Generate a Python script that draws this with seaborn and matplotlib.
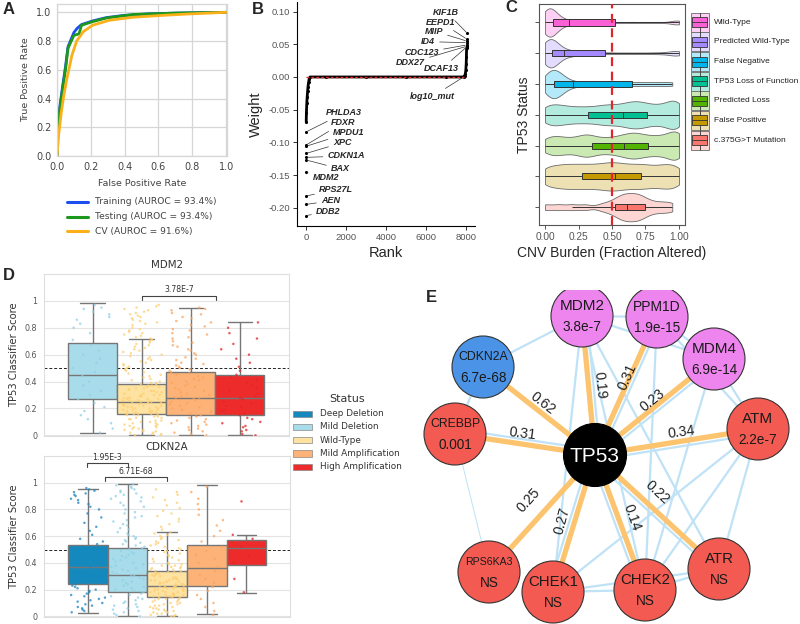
import numpy as np
import pandas as pd
import matplotlib
matplotlib.use("Agg")
import matplotlib.pyplot as plt
from matplotlib.patches import Circle, Rectangle
from matplotlib.colors import to_rgb
import seaborn as sns

sns.set_theme(style="white")
plt.rcParams["font.family"] = ["DejaVu Sans"]
ARIAL = ["Liberation Sans", "DejaVu Sans"]
np.random.seed(3)

# ======================= DATA =======================
# ---- A: ROC curves ----
roc_train_fpr = [0, 0.005, 0.016, 0.035, 0.05, 0.065, 0.1, 0.12, 0.145, 0.21, 0.29, 0.39, 0.55, 0.8, 1.0]
roc_train_tpr = [0, 0.2, 0.34, 0.5, 0.62, 0.76, 0.86, 0.89, 0.915, 0.94, 0.963, 0.978, 0.99, 0.997, 1.0]
roc_test_fpr = [0, 0.005, 0.016, 0.035, 0.05, 0.065, 0.1, 0.13, 0.145, 0.21, 0.29, 0.45, 0.7, 1.0]
roc_test_tpr = [0, 0.18, 0.32, 0.48, 0.6, 0.75, 0.84, 0.85, 0.91, 0.935, 0.96, 0.985, 0.995, 1.0]
roc_cv_fpr = [0, 0.01, 0.025, 0.04, 0.057, 0.088, 0.116, 0.155, 0.21, 0.31, 0.45, 0.64, 0.8, 1.0]
roc_cv_tpr = [0, 0.15, 0.3, 0.42, 0.53, 0.7, 0.8, 0.865, 0.91, 0.945, 0.966, 0.98, 0.99, 1.0]
roc_labels = ["Training (AUROC = 93.4%)", "Testing (AUROC = 93.4%)", "CV (AUROC = 91.6%)"]

# ---- B: classifier weights by rank ----
neg_genes = ["PHLDA3", "FDXR", "MPDU1", "XPC", "CDKN1A", "BAX", "MDM2", "RPS27L", "AEN", "DDB2"]
neg_rank = [10, 9, 8, 7, 6, 5, 4, 3, 2, 1]
neg_weight = [-0.084, -0.104, -0.106, -0.117, -0.123, -0.127, -0.145, -0.182, -0.195, -0.212]
body_rank = [11, 20, 40, 60, 80, 100, 130, 160, 200, 1000, 3000, 5000, 7000, 7880, 7920, 7960, 7990, 8010, 8020, 8030]
body_weight = [-0.069, -0.055, -0.04, -0.03, -0.022, -0.015, -0.008, -0.003, 0.0, 0.0, 0.0, 0.0, 0.0, 0.0, 0.001, 0.004, 0.01, 0.02, 0.03, 0.044]
pos_genes = ["log10_mut", "DCAF13", "DDX27", "CDC123", "ID4", "MIIP", "EEPD1", "KIF1B"]
pos_rank = [7930, 8033, 8034, 8035, 8036, 8037, 8038, 8060]
pos_weight = [0.001, 0.046, 0.047, 0.049, 0.0525, 0.055, 0.058, 0.067]

# ---- C: CNV burden by TP53 status ----
c_status = ["Wild-Type", "Predicted Wild-Type", "False Negative", "TP53 Loss of Function",
            "Predicted Loss", "False Positive", "c.375G>T Mutation"]
c_colors = ["#FB61D7", "#A58AFF", "#00B6EB", "#00C094", "#53B400", "#C49A00", "#F8766D"]
c_wt = [0, 0, 0, 0, 0.005, 0.005, 0.01, 0.01, 0.015, 0.015, 0.02, 0.02, 0.025, 0.025, 0.03, 0.03, 0.035,
        0.035, 0.04, 0.04, 0.045, 0.045, 0.05, 0.05, 0.055, 0.06, 0.065, 0.07, 0.075, 0.08, 0.085, 0.09,
        0.1, 0.11, 0.12, 0.14, 0.16, 0.18, 0.2, 0.23, 0.26, 0.3, 0.36, 0.45, 0.55, 0.65, 0.75, 0.85,
        0.96, 0.98, 0.99, 1.0]
c_pwt = [0, 0, 0, 0.005, 0.01, 0.01, 0.015, 0.02, 0.02, 0.025, 0.03, 0.03, 0.035, 0.04, 0.04, 0.045,
         0.05, 0.05, 0.055, 0.06, 0.065, 0.07, 0.075, 0.08, 0.085, 0.09, 0.1, 0.11, 0.12, 0.14, 0.16,
         0.18, 0.2, 0.23, 0.26, 0.3, 0.35, 0.42, 0.5, 0.6, 0.7, 0.8, 0.88, 0.95, 0.97, 0.99, 1.0]
c_fn = [0, 0.01, 0.02, 0.025, 0.03, 0.04, 0.045, 0.05, 0.06, 0.065, 0.07, 0.08, 0.085, 0.09, 0.1, 0.11,
        0.12, 0.13, 0.15, 0.17, 0.2, 0.25, 0.3, 0.36, 0.42, 0.48, 0.54, 0.6, 0.66, 0.72, 0.78, 0.84,
        0.9, 0.95]
c_lof = [0, 0.03, 0.07, 0.11, 0.15, 0.2, 0.25, 0.3, 0.35, 0.4, 0.44, 0.48, 0.52, 0.56, 0.6, 0.63, 0.66,
         0.69, 0.72, 0.75, 0.79, 0.83, 0.87, 0.91, 0.94, 0.97, 0.99, 1.0]
c_pl = [0, 0.04, 0.08, 0.12, 0.17, 0.22, 0.27, 0.3, 0.33, 0.37, 0.42, 0.47, 0.52, 0.56, 0.6, 0.63, 0.66,
        0.69, 0.72, 0.76, 0.8, 0.84, 0.88, 0.92, 0.95, 0.98, 1.0, 1.0]
c_fp = [0, 0.04, 0.09, 0.13, 0.17, 0.21, 0.25, 0.29, 0.33, 0.37, 0.41, 0.45, 0.48, 0.52, 0.55, 0.59,
        0.63, 0.67, 0.71, 0.75, 0.79, 0.84, 0.88, 0.92, 0.96, 1.0]
c_g375 = [0, 0.1, 0.2, 0.3, 0.42, 0.48, 0.52, 0.55, 0.57, 0.59, 0.61, 0.63, 0.65, 0.67, 0.69, 0.71,
          0.73, 0.76, 0.8, 0.85, 0.9, 0.95]
c_violin_values = [c_wt, c_pwt, c_fn, c_lof, c_pl, c_fp, c_g375]
# box summaries: min, q1, median, q3, max
c_box_wt = [0.0, 0.057, 0.18, 0.52, 1.0]
c_box_pwt = [0.0, 0.05, 0.14, 0.45, 1.0]
c_box_fn = [0.0, 0.07, 0.21, 0.65, 0.95]
c_box_lof = [0.0, 0.32, 0.58, 0.76, 1.0]
c_box_pl = [0.0, 0.35, 0.59, 0.77, 1.0]
c_box_fp = [0.0, 0.275, 0.52, 0.72, 1.0]
c_box_g375 = [0.2, 0.52, 0.61, 0.75, 0.95]
c_box_values = [c_box_wt, c_box_pwt, c_box_fn, c_box_lof, c_box_pl, c_box_fp, c_box_g375]

# ---- D: classifier score by copy number status ----
d_status = ["Deep Deletion", "Mild Deletion", "Wild-Type", "Mild Amplification", "High Amplification"]
d_box_colors = ["#1489bd", "#a9dcea", "#fee2a2", "#fdb378", "#ee2b2b"]
d_pt_colors = ["#1f86bf", "#8fd0e6", "#fdcf72", "#fba35e", "#e32626"]
mdm2_status = ["Mild Deletion", "Wild-Type", "Mild Amplification", "High Amplification"]
mdm2_box_mild_del = [0.018, 0.27, 0.452, 0.689, 0.988]
mdm2_box_wt = [0.0, 0.158, 0.247, 0.38, 0.714]
mdm2_box_mild_amp = [0.0, 0.148, 0.277, 0.47, 0.95]
mdm2_box_high_amp = [0.0, 0.152, 0.277, 0.447, 0.84]
mdm2_pts_mild_del = [0.97, 0.95, 0.94, 0.92, 0.9, 0.88, 0.86, 0.83, 0.8, 0.76, 0.71, 0.67, 0.63, 0.6, 0.57,
                     0.54, 0.5, 0.47, 0.44, 0.4, 0.37, 0.33, 0.3, 0.27, 0.24, 0.21, 0.18, 0.15, 0.12, 0.09,
                     0.05, 0.02]
mdm2_pts_wt = [0.97, 0.96, 0.95, 0.94, 0.93, 0.92, 0.91, 0.9, 0.89, 0.88, 0.87, 0.86, 0.85, 0.84, 0.83,
               0.82, 0.8, 0.79, 0.78, 0.77, 0.76, 0.75, 0.74, 0.73, 0.72, 0.71, 0.7, 0.69, 0.68, 0.67, 0.66,
               0.65, 0.64, 0.63, 0.62, 0.61, 0.6, 0.59, 0.58, 0.57, 0.56, 0.55, 0.54, 0.53, 0.52, 0.51, 0.5,
               0.49, 0.48, 0.47, 0.46, 0.45, 0.44, 0.43, 0.42, 0.41, 0.4, 0.39, 0.39, 0.38, 0.38, 0.37,
               0.37, 0.36, 0.36, 0.35, 0.35, 0.34, 0.34, 0.33, 0.33, 0.32, 0.32, 0.31, 0.31, 0.3, 0.3, 0.3,
               0.29, 0.29, 0.28, 0.28, 0.28, 0.27, 0.27, 0.27, 0.26, 0.26, 0.26, 0.25, 0.25, 0.25, 0.24,
               0.24, 0.24, 0.23, 0.23, 0.23, 0.22, 0.22, 0.22, 0.21, 0.21, 0.21, 0.2, 0.2, 0.2, 0.19, 0.19,
               0.19, 0.18, 0.18, 0.18, 0.17, 0.17, 0.17, 0.16, 0.16, 0.16, 0.15, 0.15, 0.15, 0.14, 0.14,
               0.13, 0.13, 0.12, 0.12, 0.11, 0.11, 0.1, 0.1, 0.09, 0.09, 0.08, 0.08, 0.07, 0.07, 0.06,
               0.06, 0.05, 0.05, 0.04, 0.04, 0.03, 0.03, 0.02, 0.02, 0.01, 0.01, 0.0, 0.0]
mdm2_pts_mild_amp = [0.95, 0.94, 0.93, 0.91, 0.9, 0.88, 0.87, 0.85, 0.84, 0.82, 0.81, 0.79, 0.78, 0.76, 0.75,
                     0.73, 0.72, 0.7, 0.69, 0.67, 0.66, 0.64, 0.63, 0.61, 0.6, 0.58, 0.57, 0.56, 0.54, 0.53,
                     0.52, 0.51, 0.5, 0.49, 0.48, 0.47, 0.46, 0.45, 0.44, 0.43, 0.42, 0.41, 0.4, 0.39, 0.38,
                     0.37, 0.36, 0.35, 0.34, 0.33, 0.32, 0.31, 0.3, 0.29, 0.28, 0.28, 0.27, 0.26, 0.25, 0.24,
                     0.23, 0.22, 0.21, 0.2, 0.19, 0.18, 0.17, 0.16, 0.15, 0.14, 0.13, 0.12, 0.11, 0.1, 0.09,
                     0.08, 0.07, 0.06, 0.05, 0.04, 0.03, 0.02, 0.01, 0.0]
mdm2_pts_high_amp = [0.84, 0.8, 0.76, 0.72, 0.68, 0.64, 0.6, 0.57, 0.54, 0.51, 0.48, 0.45, 0.43, 0.41, 0.39,
                     0.37, 0.35, 0.33, 0.31, 0.29, 0.28, 0.27, 0.25, 0.24, 0.22, 0.21, 0.19, 0.18, 0.16, 0.15,
                     0.13, 0.12, 0.1, 0.09, 0.07, 0.06, 0.04, 0.03, 0.01, 0.0]
cdkn2a_box_deep_del = [0.025, 0.242, 0.371, 0.537, 0.955]
cdkn2a_box_mild_del = [0.0, 0.182, 0.311, 0.515, 0.988]
cdkn2a_box_wt = [0.003, 0.145, 0.224, 0.341, 0.634]
cdkn2a_box_mild_amp = [0.015, 0.224, 0.361, 0.533, 0.98]
cdkn2a_box_high_amp = [0.177, 0.386, 0.515, 0.575, 0.612]
cdkn2a_pts_deep_del = [0.96, 0.95, 0.94, 0.93, 0.92, 0.91, 0.9, 0.88, 0.87, 0.85, 0.84, 0.82, 0.8, 0.77, 0.74,
                       0.7, 0.67, 0.64, 0.61, 0.58, 0.56, 0.54, 0.52, 0.5, 0.48, 0.46, 0.44, 0.42, 0.4, 0.38,
                       0.37, 0.35, 0.34, 0.33, 0.31, 0.3, 0.29, 0.28, 0.27, 0.26, 0.25, 0.24, 0.23, 0.22,
                       0.21, 0.2, 0.19, 0.18, 0.17, 0.16, 0.15, 0.14, 0.13, 0.12, 0.11, 0.1, 0.09, 0.08, 0.07,
                       0.06, 0.05, 0.04, 0.03]
cdkn2a_pts_mild_del = [0.99, 0.98, 0.97, 0.96, 0.95, 0.94, 0.93, 0.92, 0.91, 0.9, 0.89, 0.88, 0.86, 0.85,
                       0.83, 0.82, 0.8, 0.78, 0.77, 0.75, 0.74, 0.72, 0.71, 0.69, 0.68, 0.66, 0.65, 0.63, 0.62,
                       0.61, 0.6, 0.59, 0.58, 0.57, 0.56, 0.55, 0.54, 0.53, 0.52, 0.51, 0.5, 0.49, 0.48, 0.47,
                       0.46, 0.45, 0.44, 0.43, 0.42, 0.41, 0.4, 0.39, 0.38, 0.37, 0.36, 0.35, 0.34, 0.33, 0.32,
                       0.31, 0.3, 0.29, 0.28, 0.27, 0.26, 0.25, 0.24, 0.23, 0.22, 0.21, 0.2, 0.19, 0.18, 0.17,
                       0.16, 0.15, 0.14, 0.13, 0.12, 0.11, 0.1, 0.09, 0.08, 0.07, 0.06, 0.05, 0.04, 0.03,
                       0.02, 0.01, 0.0]
cdkn2a_pts_wt = [0.95, 0.93, 0.91, 0.89, 0.87, 0.85, 0.83, 0.81, 0.79, 0.77, 0.75, 0.73, 0.71, 0.69, 0.67,
                 0.65, 0.63, 0.62, 0.61, 0.6, 0.59, 0.58, 0.57, 0.56, 0.55, 0.54, 0.53, 0.52, 0.51, 0.5, 0.49,
                 0.48, 0.47, 0.46, 0.45, 0.44, 0.43, 0.42, 0.41, 0.4, 0.39, 0.39, 0.38, 0.38, 0.37, 0.37,
                 0.36, 0.36, 0.35, 0.35, 0.34, 0.34, 0.33, 0.33, 0.32, 0.32, 0.31, 0.31, 0.3, 0.3, 0.29,
                 0.29, 0.28, 0.28, 0.28, 0.27, 0.27, 0.27, 0.26, 0.26, 0.26, 0.25, 0.25, 0.25, 0.24, 0.24,
                 0.24, 0.23, 0.23, 0.23, 0.22, 0.22, 0.22, 0.21, 0.21, 0.21, 0.2, 0.2, 0.2, 0.19, 0.19,
                 0.19, 0.18, 0.18, 0.18, 0.17, 0.17, 0.17, 0.16, 0.16, 0.16, 0.15, 0.15, 0.15, 0.14, 0.14,
                 0.14, 0.13, 0.13, 0.13, 0.12, 0.12, 0.11, 0.11, 0.1, 0.1, 0.09, 0.09, 0.08, 0.08, 0.07,
                 0.07, 0.06, 0.06, 0.05, 0.05, 0.04, 0.04, 0.03, 0.03, 0.02, 0.02, 0.01, 0.01, 0.0, 0.0]
cdkn2a_pts_mild_amp = [0.97, 0.93, 0.88, 0.84, 0.8, 0.76, 0.72, 0.68, 0.64, 0.6, 0.56, 0.52, 0.49, 0.46, 0.43,
                       0.4, 0.37, 0.34, 0.31, 0.28, 0.25, 0.22, 0.19, 0.16, 0.13, 0.1, 0.07, 0.04, 0.01]
cdkn2a_pts_high_amp = [0.86, 0.61, 0.58, 0.52, 0.45, 0.4, 0.28, 0.18]
mdm2_pvalue = "3.78E-7"
cdkn2a_pvalues = ["1.95E-3", "6.71E-68"]

# ---- E: network ----
e_genes = ["MDM2", "PPM1D", "MDM4", "ATM", "ATR", "CHEK2", "CHEK1", "RPS6KA3", "CREBBP", "CDKN2A"]
e_pvals = ["3.8e-7", "1.9e-15", "6.9e-14", "2.2e-7", "NS", "NS", "NS", "NS", "0.001", "6.7e-68"]
e_weights = ["0.19", "0.31", "0.23", "0.34", "0.22", "0.14", "0.27", "0.25", "0.31", "0.62"]
e_kind = ["amp", "amp", "amp", "loss", "loss", "loss", "loss", "loss", "loss", "del"]
e_gene_edges = [("CDKN2A", "MDM2"), ("CDKN2A", "CREBBP"), ("MDM2", "PPM1D"), ("MDM2", "MDM4"),
                ("MDM2", "CHEK1"), ("MDM2", "CHEK2"), ("MDM2", "ATR"), ("PPM1D", "MDM4"),
                ("PPM1D", "ATM"), ("PPM1D", "CHEK2"), ("MDM4", "ATM"), ("MDM4", "CHEK2"),
                ("ATM", "ATR"), ("ATM", "CHEK1"), ("ATM", "CHEK2"), ("ATR", "CHEK2"),
                ("ATR", "CHEK1"), ("CHEK1", "CHEK2")]
e_tp53_blue = ["MDM2", "PPM1D", "MDM4", "ATM", "ATR", "CHEK2", "CHEK1", "CREBBP"]

# ======================= LAYOUT =======================
W, H = 800, 624
fig = plt.figure(figsize=(8, 6.24), dpi=100)
fig.patch.set_facecolor("white")


def fax(l, t, r, b):
    return fig.add_axes([l / W, 1 - b / H, (r - l) / W, (b - t) / H])


# ---------------- Panel A ----------------
axA = fax(57, 4, 227, 156)
dfA = pd.concat([
    pd.DataFrame({"fpr": roc_train_fpr, "tpr": roc_train_tpr, "set": roc_labels[0]}),
    pd.DataFrame({"fpr": roc_test_fpr, "tpr": roc_test_tpr, "set": roc_labels[1]}),
    pd.DataFrame({"fpr": roc_cv_fpr, "tpr": roc_cv_tpr, "set": roc_labels[2]}),
])
a_colors = ["#1f4ef0", "#1c981c", "#fbb01a"]
sns.lineplot(data=dfA, x="fpr", y="tpr", hue="set", palette=a_colors, sort=False,
             estimator=None, lw=2.0, ax=axA, legend=False)
axA.set_xlim(0, 1.005)
axA.set_ylim(0, 1.058)
axA.set_xticks([0, 0.2, 0.4, 0.6, 0.8, 1.0])
axA.set_yticks([0, 0.2, 0.4, 0.6, 0.8, 1.0])
axA.set_xticklabels([f"{v:.1f}" for v in axA.get_xticks()])
axA.set_yticklabels([f"{v:.1f}" for v in axA.get_yticks()])
axA.grid(True, color="#d6d6d6", lw=0.9)
for s in axA.spines.values():
    s.set_color("#d6d6d6")
    s.set_linewidth(0.9)
axA.tick_params(labelsize=7, colors="#444444", length=0, pad=4)
axA.set_xlabel("False Positive Rate", fontsize=6.8, color="#444444", labelpad=5)
axA.set_ylabel("True Positive Rate", fontsize=6.8, color="#444444", labelpad=4)

# ---------------- Panel B ----------------
axB = fax(297, 2, 475, 226)
dfB_body = pd.DataFrame({"rank": body_rank, "weight": body_weight})
dfB_pts = pd.DataFrame({"rank": neg_rank + body_rank + pos_rank,
                        "weight": neg_weight + body_weight + pos_weight})
sns.lineplot(data=dfB_body, x="rank", y="weight", color="black", lw=2.0, ax=axB, sort=True)
sns.scatterplot(data=dfB_pts, x="rank", y="weight", color="black", s=5, linewidth=0, ax=axB)
axB.plot([0, 7880], [0, 0], color="#e3262b", lw=1.0, ls=(0, (2, 1.5)), zorder=5)
axB.set_xlim(-450, 8450)
axB.set_ylim(-0.228, 0.1147)
axB.set_xticks([0, 2000, 4000, 6000, 8000])
axB.set_yticks([-0.2, -0.15, -0.1, -0.05, 0, 0.05, 0.1])
axB.set_yticklabels([f"{v:.2f}".replace("-0.00", "0.00") for v in [-0.2, -0.15, -0.1, -0.05, 0, 0.05, 0.1]])
for s in ["top", "right"]:
    axB.spines[s].set_visible(False)
for s in ["left", "bottom"]:
    axB.spines[s].set_color("black")
    axB.spines[s].set_linewidth(0.8)
axB.tick_params(axis="both", direction="out", length=3, width=0.7, color="#333333",
                labelsize=6.8, labelcolor="#555555", pad=2, left=True, bottom=True)
for lab in axB.get_xticklabels() + axB.get_yticklabels():
    lab.set_family(ARIAL)
axB.set_xlabel("Rank", fontsize=10.5, family=ARIAL, labelpad=3)
axB.set_ylabel("Weight", fontsize=10.5, family=ARIAL, labelpad=4)

B_LABEL_POS = {
    "PHLDA3": (1000, -0.055, "left"), "FDXR": (1225, -0.0703, "left"), "MPDU1": (1325, -0.0856, "left"),
    "XPC": (1350, -0.1005, "left"), "CDKN1A": (1075, -0.1208, "left"), "BAX": (1250, -0.1407, "left"),
    "MDM2": (335, -0.1544, "left"), "RPS27L": (650, -0.1728, "left"), "AEN": (750, -0.1896, "left"),
    "DDB2": (500, -0.2064, "left"),
    "KIF1B": (7665, 0.0994, "right"), "EEPD1": (7450, 0.0841, "right"), "MIIP": (6850, 0.0703, "right"),
    "ID4": (6450, 0.054, "right"), "CDC123": (6650, 0.0367, "right"), "DDX27": (5950, 0.0214, "right"),
    "DCAF13": (7650, 0.0122, "right"), "log10_mut": (7420, -0.0306, "right"),
}
for g, r, w in zip(neg_genes + pos_genes, neg_rank + pos_rank, neg_weight + pos_weight):
    tx, ty, ha = B_LABEL_POS[g]
    axB.annotate(g, xy=(r, w), xytext=(tx, ty), ha=ha, va="center", fontsize=6.5,
                 fontweight="bold", fontstyle="italic", family=ARIAL,
                 arrowprops=dict(arrowstyle="-", lw=0.5, color="#333333", shrinkA=1, shrinkB=1))

# ---------------- Panel C ----------------
axC = fax(539, 4, 685, 225)


def lighten(c, a=0.3):
    r, g, b = to_rgb(c)
    return (1 - a + a * r, 1 - a + a * g, 1 - a + a * b)


c_light = [lighten(c) for c in c_colors]
dfCv = pd.DataFrame([(s, v) for s, vals in zip(c_status, c_violin_values) for v in vals],
                    columns=["status", "burden"])
dfCb = pd.DataFrame([(s, v) for s, vals in zip(c_status, c_box_values) for v in vals],
                    columns=["status", "burden"])
sns.violinplot(data=dfCv, x="burden", y="status", hue="status", order=c_status, hue_order=c_status,
               palette=c_light, inner=None, cut=0, bw_adjust=0.33, density_norm="area", width=0.92,
               linewidth=0.6, linecolor="#6a6a6a", saturation=1, ax=axC, legend=False)
sns.boxplot(data=dfCb, x="burden", y="status", hue="status", order=c_status, hue_order=c_status,
            palette=c_colors, width=0.2, whis=(0, 100), showfliers=False, linewidth=0.7,
            linecolor="#333333", saturation=1, ax=axC, legend=False, showcaps=False)
axC.axvline(0.5, color="#e0262b", lw=1.6, ls=(0, (4, 2.5)), zorder=6)
axC.set_xlim(-0.045, 1.045)
axC.set_ylim(6.58, -0.6)
axC.set_xticks([0, 0.25, 0.5, 0.75, 1.0])
axC.set_xticklabels(["0.00", "0.25", "0.50", "0.75", "1.00"])
axC.set_yticks(range(len(c_status)))
axC.set_yticklabels([])
for s in axC.spines.values():
    s.set_color("#555555")
    s.set_linewidth(0.8)
axC.tick_params(axis="both", direction="out", length=3, width=0.7, color="#555555",
                labelsize=7.3, labelcolor="#555555", pad=2, left=True, bottom=True)
for lab in axC.get_xticklabels():
    lab.set_family(ARIAL)
axC.set_xlabel("CNV Burden (Fraction Altered)", fontsize=10, family=ARIAL, labelpad=3)
axC.set_ylabel("TP53 Status", fontsize=10, family=ARIAL, labelpad=1)


# ---------------- Panel D ----------------
def panel_d(ax, order, box_lists, pt_lists, title, xlim):
    cols_box = [d_box_colors[d_status.index(s)] for s in order]
    cols_pt = [d_pt_colors[d_status.index(s)] for s in order]
    dfb = pd.DataFrame([(s, v) for s, vals in zip(order, box_lists) for v in vals], columns=["status", "score"])
    dfp = pd.DataFrame([(s, v) for s, vals in zip(order, pt_lists) for v in vals], columns=["status", "score"])
    ax.axhline(0.5, color="#222222", lw=0.7, ls=(0, (3, 2)), zorder=1)
    sns.boxplot(data=dfb, x="status", y="score", hue="status", order=order, hue_order=order,
                palette=cols_box, width=1.0, whis=(0, 100), showfliers=False, linewidth=1.0,
                linecolor="#767676", saturation=1, ax=ax, legend=False)
    sns.stripplot(data=dfp, x="status", y="score", hue="status", order=order, hue_order=order,
                  palette=cols_pt, size=1.8, jitter=0.43, alpha=0.75, linewidth=0, ax=ax,
                  legend=False, zorder=4)
    ax.set_xlim(*xlim)
    ax.set_ylim(-0.005, 1.2)
    ax.set_yticks([0, 0.2, 0.4, 0.6, 0.8, 1.0])
    ax.set_yticklabels(["0", "0.2", "0.4", "0.6", "0.8", "1"])
    ax.set_xticks([])
    ax.set_xlabel("")
    ax.grid(True, axis="y", color="#e4e4e4", lw=0.8)
    ax.set_axisbelow(True)
    for s in ax.spines.values():
        s.set_color("#dedede")
        s.set_linewidth(0.8)
    ax.tick_params(axis="y", length=0, labelsize=5.8, labelcolor="#555555", pad=5)
    ax.set_ylabel("TP53 Classifier Score", fontsize=7.2, color="#333333", labelpad=4)
    ax.set_title(title, fontsize=7.4, color="#333333", pad=4)


def bracket(ax, x0, x1, y, text, drop=0.03):
    ax.plot([x0, x0, x1, x1], [y - drop, y, y, y - drop], color="#444444", lw=0.8, zorder=5)
    ax.text((x0 + x1) / 2, y + 0.012, text, ha="center", va="bottom", fontsize=5.6, color="#333333")


axD1 = fax(44, 274, 289, 436)
panel_d(axD1, mdm2_status,
        [mdm2_box_mild_del, mdm2_box_wt, mdm2_box_mild_amp, mdm2_box_high_amp],
        [mdm2_pts_mild_del, mdm2_pts_wt, mdm2_pts_mild_amp, mdm2_pts_high_amp],
        "MDM2", (-0.99, 4.0))
bracket(axD1, 1.01, 2.52, 1.04, mdm2_pvalue)

axD2 = fax(44, 456, 290, 617)
panel_d(axD2, d_status,
        [cdkn2a_box_deep_del, cdkn2a_box_mild_del, cdkn2a_box_wt, cdkn2a_box_mild_amp, cdkn2a_box_high_amp],
        [cdkn2a_pts_deep_del, cdkn2a_pts_mild_del, cdkn2a_pts_wt, cdkn2a_pts_mild_amp, cdkn2a_pts_high_amp],
        "CDKN2A", (-1.11, 5.1))
bracket(axD2, -0.03, 1.0, 1.145, cdkn2a_pvalues[0])
bracket(axD2, 0.44, 2.0, 1.04, cdkn2a_pvalues[1])

# ---------------- Panel E ----------------
axE = fax(420, 290, 800, 624)
axE.set_xlim(420, 800)
axE.set_ylim(624, 290)
axE.axis("off")
E_POS = {"TP53": (595, 455), "MDM2": (582, 316), "PPM1D": (657, 317), "MDM4": (714, 359),
         "ATM": (758, 429), "ATR": (719, 569), "CHEK2": (645, 590), "CHEK1": (553, 592),
         "RPS6KA3": (489, 572), "CREBBP": (455, 434), "CDKN2A": (483, 367)}
E_LABEL = {"CDKN2A": (543, 403, -38), "CREBBP": (523, 434, -7), "MDM2": (600, 385, -84),
           "PPM1D": (627, 377, 66), "MDM4": (653, 400, 39), "ATM": (681, 432, 8),
           "ATR": (657, 492, -43), "CHEK2": (632, 518, -70), "CHEK1": (562, 521, 75),
           "RPS6KA3": (529, 500, 48)}
E_NAME_SIZE = {"MDM2": 11, "PPM1D": 10, "MDM4": 11, "ATM": 11, "ATR": 10.8, "CHEK2": 10.8,
               "CHEK1": 10.8, "RPS6KA3": 7.6, "CREBBP": 8.8, "CDKN2A": 8.8}
kind_color = {"amp": "#EE84EE", "del": "#4A93E6", "loss": "#F35B52"}
R = 31
blue = "#bfe2f6"
orange = "#fcc46f"
for a, b in e_gene_edges:
    (x1, y1), (x2, y2) = E_POS[a], E_POS[b]
    axE.plot([x1, x2], [y1, y2], color=blue, lw=1.6, zorder=1, solid_capstyle="butt")
(xa, ya), (xb, yb) = E_POS["CREBBP"], E_POS["RPS6KA3"]
axE.plot([xa, xb], [ya, yb], color=blue, lw=0.7, zorder=1)
tx, ty = E_POS["TP53"]
for g in e_tp53_blue:
    x, y = E_POS[g]
    d = np.hypot(x - tx, y - ty)
    ox, oy = -(y - ty) / d * 5, (x - tx) / d * 5
    axE.plot([tx + ox, x + ox], [ty + oy, y + oy], color=blue, lw=1.6, zorder=1)
for g, w in zip(e_genes, e_weights):
    x, y = E_POS[g]
    axE.plot([tx, x], [ty, y], color=orange, lw=3.8, zorder=2, solid_capstyle="butt")
    lx, ly, rot = E_LABEL[g]
    axE.text(lx, ly, w, ha="center", va="center", rotation=rot, rotation_mode="anchor",
             fontsize=10.2, family=ARIAL, color="#222222", zorder=6)
for g, p, k in zip(e_genes, e_pvals, e_kind):
    x, y = E_POS[g]
    axE.add_patch(Circle((x, y), R, fc=kind_color[k], ec="#333333", lw=0.8, zorder=3))
    axE.text(x, y - 10, g, ha="center", va="center", fontsize=E_NAME_SIZE[g], family=ARIAL,
             color="#1a1a1a", zorder=4)
    axE.text(x, y + 11, p, ha="center", va="center", fontsize=9.8, family=ARIAL,
             color="#1a1a1a", zorder=4)
axE.add_patch(Circle((tx, ty), R + 0.5, fc="black", ec="black", lw=0.8, zorder=3))
axE.text(tx, ty + 1, "TP53", ha="center", va="center", fontsize=15, family=ARIAL, color="white", zorder=4)

# ---------------- Overlay: letters & legends ----------------
ov = fig.add_axes([0, 0, 1, 1])
ov.set_xlim(0, W)
ov.set_ylim(H, 0)
ov.axis("off")
ov.patch.set_alpha(0)
for lt, (x, y) in {"A": (9, 10), "B": (258, 10), "C": (511, 8), "D": (9, 276), "E": (431, 298)}.items():
    ov.text(x, y, lt, ha="center", va="center", fontsize=12, fontweight="bold", family=ARIAL)

# A legend
for i, (lab, col) in enumerate(zip(roc_labels, a_colors)):
    y = 202 + i * 14.6
    ov.plot([67, 88], [y, y], color=col, lw=2.2)
    ov.text(95, y, lab, ha="left", va="center", fontsize=6.6, color="#444444")

# C legend
for i, (lab, col, lcol) in enumerate(zip(c_status, c_colors, c_light)):
    yc = 22.2 + i * 19.65
    ov.add_patch(Rectangle((690.7, yc - 9.5), 18.3, 19, fc=lcol, ec="#6a6a6a", lw=0.6))
    ov.plot([699.85, 699.85], [yc - 9.5, yc + 9.5], color="#333333", lw=0.6)
    ov.add_patch(Rectangle((692.3, yc - 5), 15.1, 10, fc=col, ec="#333333", lw=0.6, zorder=3))
    ov.plot([692.3, 707.4], [yc, yc], color="#333333", lw=0.6, zorder=4)
    ov.text(714, yc, lab, ha="left", va="center", fontsize=6.0, family=ARIAL, color="#222222")

# D legend
ov.text(347, 399, "Status", ha="center", va="center", fontsize=8, color="#333333")
for i, (lab, col) in enumerate(zip(d_status, d_box_colors)):
    yc = 413.7 + i * 13.25
    ov.add_patch(Rectangle((293, yc - 3.2), 19, 6.4, fc=col, ec="#888888", lw=0.5))
    ov.text(320, yc, lab, ha="left", va="center", fontsize=6.4, color="#333333")

fig.savefig("out.png", dpi=100)
